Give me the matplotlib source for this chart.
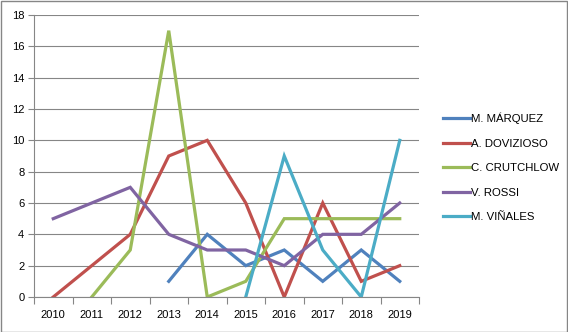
import numpy as np
import matplotlib
matplotlib.use("Agg")
import matplotlib.pyplot as plt
from matplotlib.patches import Rectangle

plt.rcParams['font.family'] = ['Liberation Sans', 'DejaVu Sans']

years = ['2010', '2011', '2012', '2013', '2014', '2015', '2016', '2017', '2018', '2019']
nan = np.nan
marquez = [nan, nan, nan, 1, 4, 2, 3, 1, 3, 1]
dovizioso = [0, 2, 4, 9, 10, 6, 0, 6, 1, 2]
crutchlow = [nan, 0, 3, 17, 0, 1, 5, 5, 5, 5]
rossi = [5, 6, 7, 4, 3, 3, 2, 4, 4, 6]
vinales = [nan, nan, nan, nan, nan, 0, 9, 3, 0, 10]

names = ['M. MÁRQUEZ', 'A. DOVIZIOSO', 'C. CRUTCHLOW', 'V. ROSSI', 'M. VIÑALES']
series = [marquez, dovizioso, crutchlow, rossi, vinales]
colors = ['#4F81BD', '#C0504D', '#9BBB59', '#8064A2', '#4BACC6']

fig = plt.figure(figsize=(5.68, 3.32), dpi=100)
ax = fig.add_axes([34/568, 35/332, 385/568, 282/332])

x = np.arange(len(years))
lines = []
for vals, name, c in zip(series, names, colors):
    ln, = ax.plot(x, vals, color=c, lw=2.3, label=name, solid_joinstyle='miter')
    lines.append(ln)

ax.set_xlim(-0.5, len(years) - 0.5)
ax.set_ylim(0, 18)
ax.set_yticks(np.arange(0, 19, 2))
ax.set_xticks(x)
ax.set_xticklabels(years)
ax.set_xticks(np.arange(-0.5, len(years)), minor=True)
ax.tick_params(axis='x', which='major', length=0, pad=9, labelsize=8)
ax.tick_params(axis='x', which='minor', length=5, color='#868686', width=0.8)
ax.tick_params(axis='y', length=4, color='#868686', width=0.8, labelsize=8, pad=3)
ax.grid(axis='y', color='#868686', lw=0.8)
ax.set_axisbelow(True)
for s in ['top', 'right']:
    ax.spines[s].set_visible(False)
for s in ['left', 'bottom']:
    ax.spines[s].set_color('#868686')
    ax.spines[s].set_linewidth(0.8)

leg = fig.legend(handles=lines, loc='upper left', bbox_to_anchor=(438/568, 1 - 108/332),
                 frameon=False, fontsize=8.2, handlelength=2.4, handletextpad=0.1,
                 labelspacing=1.28, borderaxespad=0)

fig.add_artist(Rectangle((0.5/568, 0.5/332), 1 - 1.5/568, 1 - 1.5/332,
                         transform=fig.transFigure, fill=False,
                         edgecolor='#868686', lw=1.0))

fig.savefig('out.png', dpi=100)
